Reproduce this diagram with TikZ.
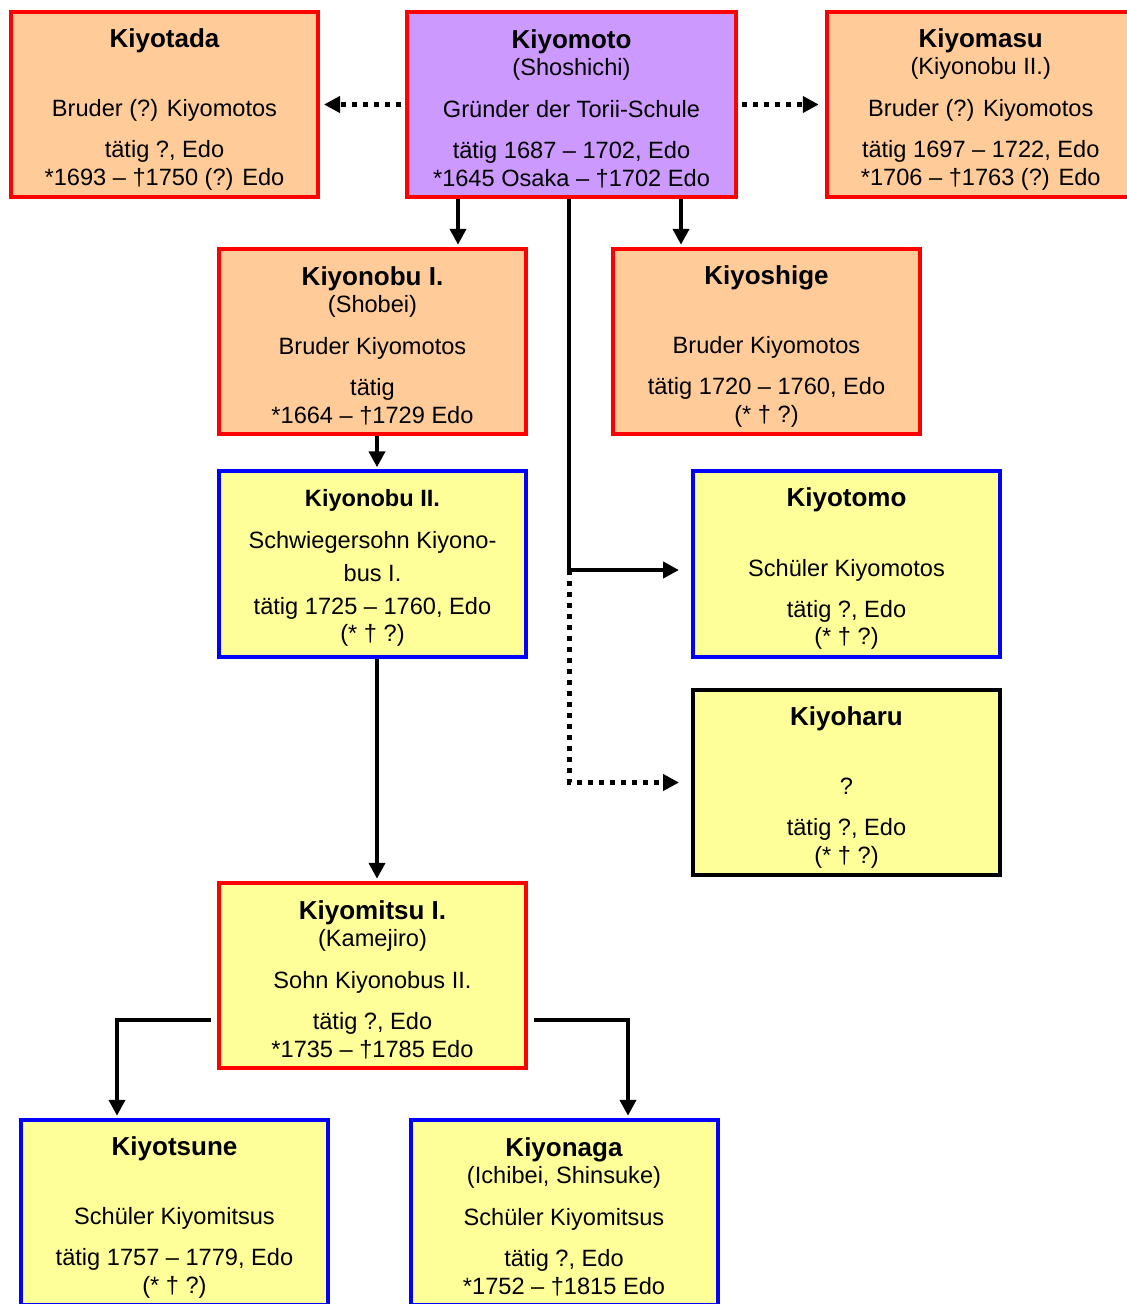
\documentclass[tikz,border=0pt]{standalone}
\usepackage{fontspec}
\setmainfont{Liberation Sans}
\usepackage{xcolor}
\usetikzlibrary{calc,arrows.meta}

\definecolor{orng}{HTML}{FFCC99}
\definecolor{lila}{HTML}{CC99FF}
\definecolor{gelb}{HTML}{FFFF99}

\newcommand{\pname}[1]{\rule{0pt}{28pt}{\fontsize{26}{27.5}\selectfont\bfseries #1}}
\newcommand{\pend}{\rule[-2.5pt]{0pt}{0pt}}

\begin{document}
\begin{tikzpicture}[x=1pt,y=-1pt]
    \tikzstyle{every node}=[draw,line width=4pt,minimum width=307pt,minimum height=185.5pt,inner sep=0pt,align=center,font=\fontsize{23.6}{27.5}\selectfont]
    \tikzset{
      rot/.style={draw=red},
      blau/.style={draw=blue},
      arr/.style={line width=4.5pt,-{Triangle[length=16pt,width=16pt]}},
      dotline/.style={arr,line width=5pt,dash pattern=on 5pt off 6pt}
    }
    \useasboundingbox (0,0) rectangle (1127,1304);

    % top row
    \node[rot,fill=orng] (kiyotada) at (164.5,104.5) {\pname{Kiyotada}\\ \\[14.5pt] Bruder (?) Kiyomotos\\[13.5pt] tätig ?, Edo\\ *1693 – †1750 (?) Edo\pend};
    \node[rot,fill=lila,minimum width=329pt] (kiyomoto) at (571.5,104.5) {\pname{Kiyomoto}\\ (Shoshichi)\\[14.5pt] Gründer der Torii-Schule\\[13.5pt] tätig 1687 – 1702, Edo\\ *1645 Osaka – †1702 Edo\pend};
    \node[rot,fill=orng] (kiyomasu) at (980.75,104.5) {\pname{Kiyomasu}\\ (Kiyonobu II.)\\[14.5pt] Bruder (?) Kiyomotos\\[13.5pt] tätig 1697 – 1722, Edo\\ *1706 – †1763 (?) Edo\pend};

    % second row
    \node[rot,fill=orng] (kiyonobu1) at (372.5,341.5) {\pname{Kiyonobu I.}\\ (Shobei)\\[14.5pt] Bruder Kiyomotos\\[13.5pt] tätig\\ *1664 – †1729 Edo\pend};
    \node[rot,fill=orng] (kiyoshige) at (766.5,341.5) {\pname{Kiyoshige}\\ \\[14.5pt] Bruder Kiyomotos\\[13.5pt] tätig 1720 – 1760, Edo\\ (* † ?)\pend};

    % third row
    \node[blau,fill=gelb] (kiyonobu2) at (372.5,564) {\rule{0pt}{25pt}\textbf{Kiyonobu II.}\\[14.5pt] Schwiegersohn Kiyono-\\[5.5pt] bus I.\\[5.5pt] tätig 1725 – 1760, Edo\\ (* † ?)\pend};
    \node[blau,fill=gelb] (kiyotomo) at (846.5,564) {\pname{Kiyotomo}\\ \\[14.5pt] Schüler Kiyomotos\\[13.5pt] tätig ?, Edo\\ (* † ?)\pend};
    \node[draw=black,fill=gelb] (kiyoharu) at (846.5,782.5) {\pname{Kiyoharu}\\ \\[14.5pt] ?\\[13.5pt] tätig ?, Edo\\ (* † ?)\pend};

    % Kiyomitsu and pupils
    \node[rot,fill=gelb] (kiyomitsu) at (372.5,975.5) {\pname{Kiyomitsu I.}\\ (Kamejiro)\\[14.5pt] Sohn Kiyonobus II.\\[13.5pt] tätig ?, Edo\\ *1735 – †1785 Edo\pend};
    \node[blau,fill=gelb] (kiyotsune) at (174.5,1212.5) {\pname{Kiyotsune}\\ \\[14.5pt] Schüler Kiyomitsus\\[13.5pt] tätig 1757 – 1779, Edo\\ (* † ?)\pend};
    \node[blau,fill=gelb] (kiyonaga) at (564,1212.5) {\pname{Kiyonaga}\\ (Ichibei, Shinsuke)\\[14.5pt] Schüler Kiyomitsus\\[13.5pt] tätig ?, Edo\\ *1752 – †1815 Edo\pend};

    % dotted side links
    \draw[dotline,shorten >=4pt] ($(kiyomoto.west)+(-4,0)$) -- (kiyotada.east);
    \draw[dotline,shorten >=6.5pt] ($(kiyomoto.east)+(4,0)$) -- (kiyomasu.west);

    % down from Kiyomoto
    \coordinate (a1) at ($(kiyomoto.south)+(-113.5,0)$);
    \coordinate (a2) at ($(kiyomoto.south)+(109.5,0)$);
    \draw[arr,shorten >=2pt] (a1) -- (a1 |- kiyonobu1.north);
    \draw[arr,shorten >=2pt] (a2) -- (a2 |- kiyoshige.north);

    \coordinate (fork) at ($(kiyomoto.south |- kiyotomo.west)+(-2.5,6)$);
    \draw[line width=4.5pt] ($(kiyomoto.south)+(-2.5,0)$) -- (fork);
    \draw[arr,shorten >=12pt] (fork) -- (fork -| kiyotomo.west);
    \draw[dotline,shorten >=12pt] (fork) |- (kiyoharu.west);

    % line of Kiyonobu
    \coordinate (b1) at ($(kiyonobu1.south)+(4.5,0)$);
    \coordinate (b2) at ($(kiyonobu2.south)+(4.5,0)$);
    \draw[arr,shorten >=2pt] (b1) -- (b1 |- kiyonobu2.north);
    \draw[arr,shorten >=2pt] (b2) -- (b2 |- kiyomitsu.north);

    % pupils of Kiyomitsu
    \coordinate (ml) at ($(kiyomitsu.west)+(-6,44.5)$);
    \coordinate (mr) at ($(kiyomitsu.east)+(6,44.5)$);
    \draw[arr,shorten >=2pt] (ml) -| ($(kiyotsune.north)+(-57.5,0)$);
    \draw[arr,shorten >=2pt] (mr) -| ($(kiyonaga.north)+(64,0)$);

\end{tikzpicture}
\end{document}
